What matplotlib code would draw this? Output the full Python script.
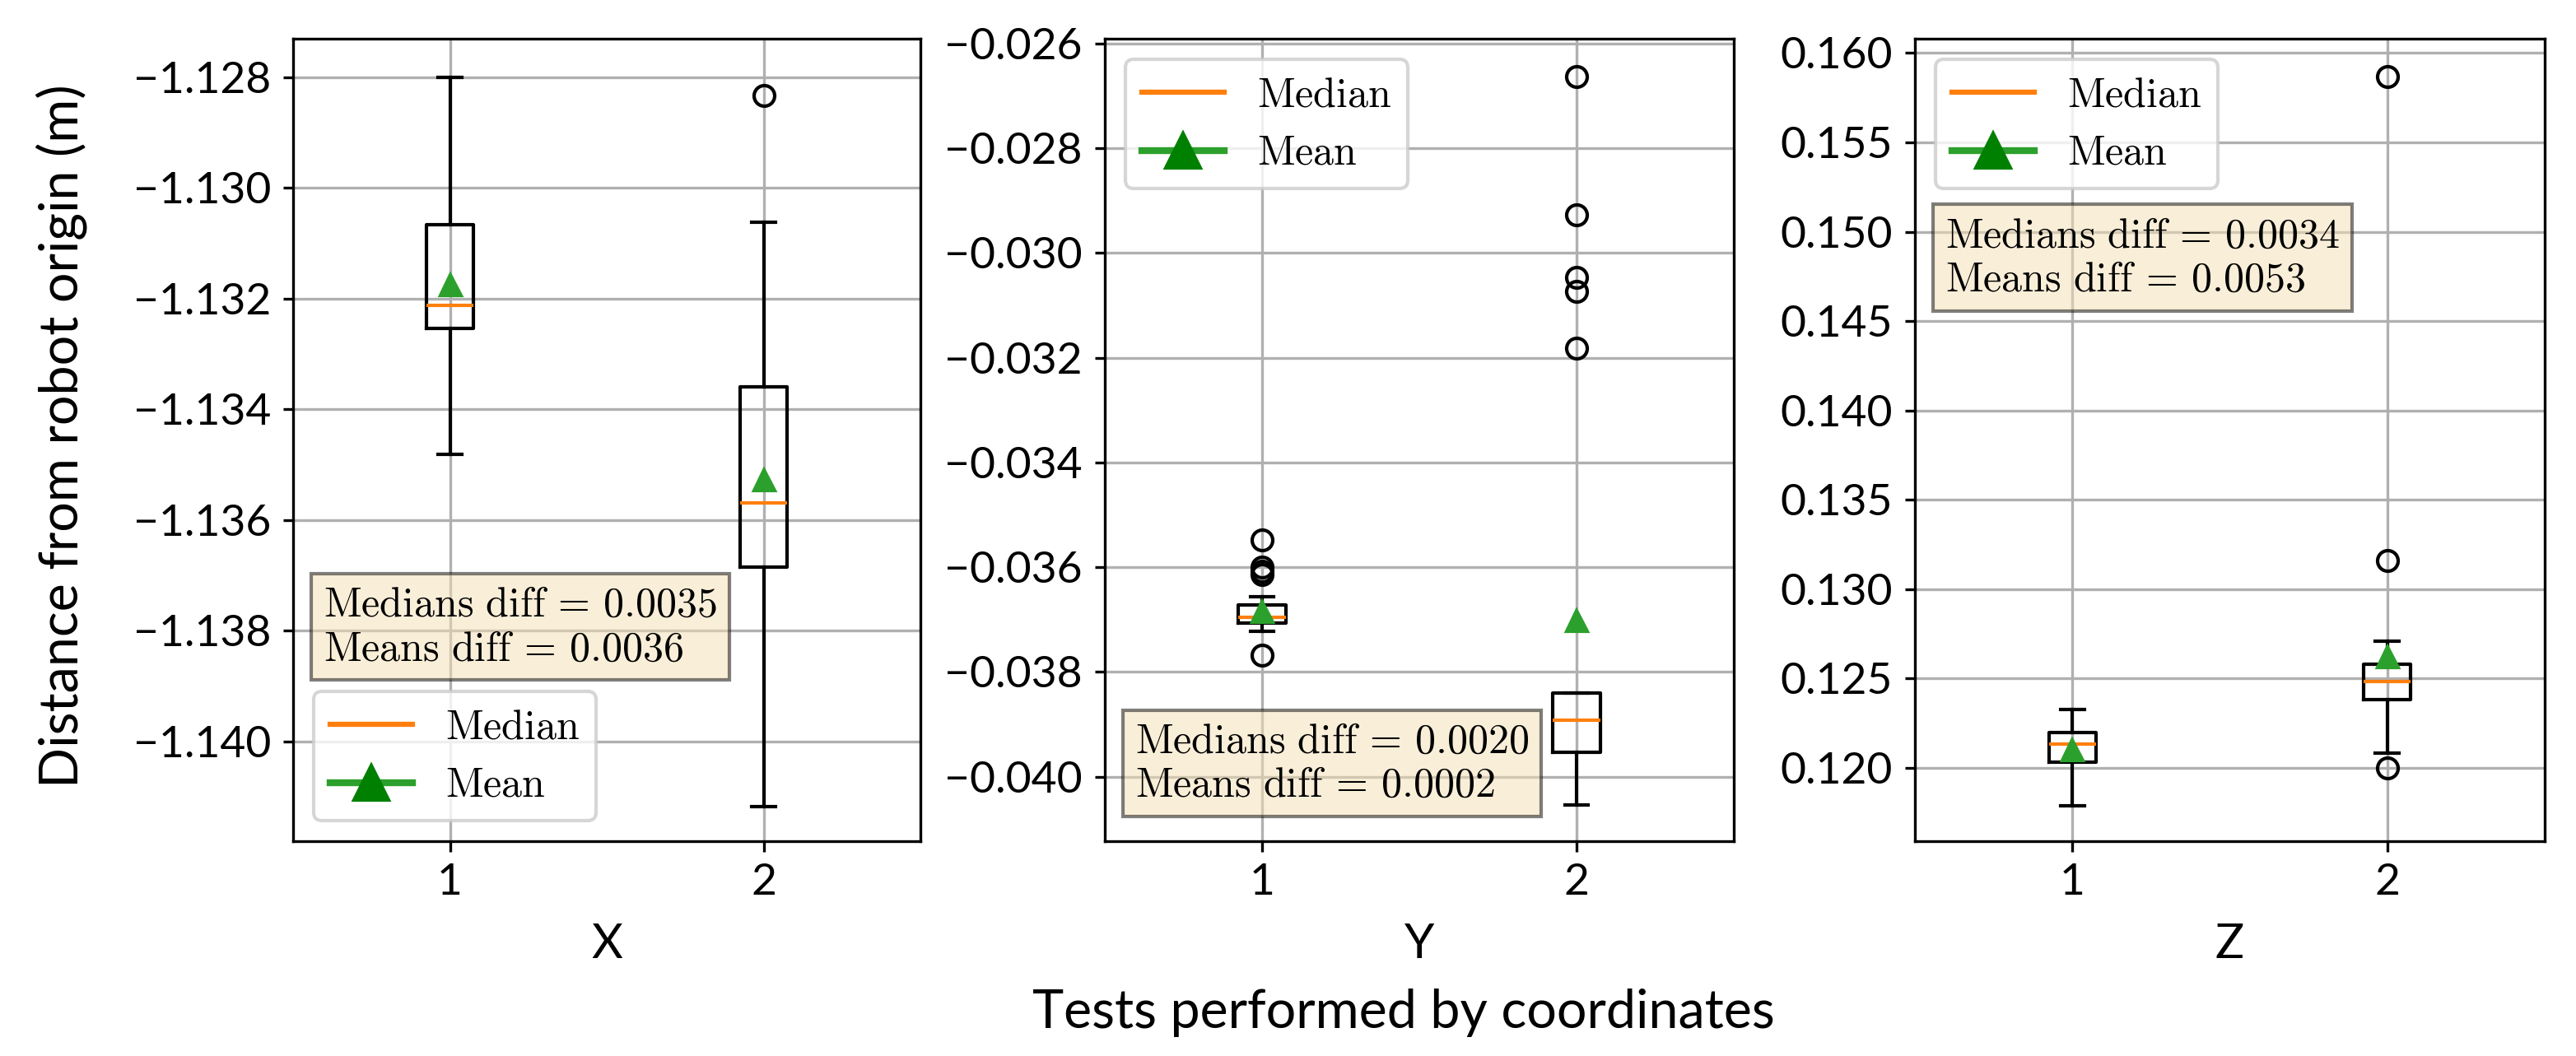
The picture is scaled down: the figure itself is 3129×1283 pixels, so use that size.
import matplotlib
matplotlib.use("Agg")
import matplotlib.pyplot as plt
from matplotlib.lines import Line2D
from matplotlib.ticker import MultipleLocator, FuncFormatter

plt.rcParams['mathtext.fontset'] = 'cm'
plt.rcParams['font.family'] = ['Lato', 'DejaVu Sans']

# data, test 1 and test 2 per coordinate
coords = ['X', 'Y', 'Z']

x_med = [-1.13212, -1.13569]
x_q1 = [-1.13254, -1.13685]
x_q3 = [-1.13066, -1.13359]
x_lo = [-1.13482, -1.14118]
x_hi = [-1.12800, -1.13062]
x_mean = [-1.13175, -1.13527]
x_fliers = [[], [-1.12833]]

y_med = [-0.03696, -0.03892]
y_q1 = [-0.03707, -0.03954]
y_q3 = [-0.03672, -0.03840]
y_lo = [-0.03723, -0.04054]
y_hi = [-0.03656, -0.03840]
y_mean = [-0.03685, -0.03702]
y_fliers = [[-0.03548, -0.03599, -0.03607, -0.03614, -0.03768],
            [-0.02663, -0.02928, -0.03047, -0.03073, -0.03182]]

z_med = [0.12135, 0.12482]
z_q1 = [0.12033, 0.12381]
z_q3 = [0.12200, 0.12582]
z_lo = [0.11790, 0.12085]
z_hi = [0.12329, 0.12711]
z_mean = [0.12101, 0.12622]
z_fliers = [[], [0.15868, 0.13159, 0.12000]]

diff_texts = [('0.0035', '0.0036'), ('0.0020', '0.0002'), ('0.0034', '0.0053')]

ylims = [(-1.141805, -1.12730), (-0.04123, -0.02591), (0.11590, 0.16080)]
ysteps = [0.002, 0.002, 0.005]


def make_stats(med, q1, q3, lo, hi, mean, fliers):
    stats = []
    for i in range(2):
        stats.append(dict(med=med[i], q1=q1[i], q3=q3[i], whislo=lo[i],
                          whishi=hi[i], mean=mean[i], fliers=fliers[i],
                          label=str(i + 1)))
    return stats


all_stats = [
    make_stats(x_med, x_q1, x_q3, x_lo, x_hi, x_mean, x_fliers),
    make_stats(y_med, y_q1, y_q3, y_lo, y_hi, y_mean, y_fliers),
    make_stats(z_med, z_q1, z_q3, z_lo, z_hi, z_mean, z_fliers),
]

fig = plt.figure(figsize=(3129 / 300, 1283 / 300), dpi=300)
lefts = [356, 1342, 2326]
widths = [762, 764, 765]
axes = []
for l, w in zip(lefts, widths):
    axes.append(fig.add_axes([l / 3129, 1 - 1022 / 1283, w / 3129, 975 / 1283]))

legend_locs = ['lower left', 'upper left', 'upper left']
text_pos = [(0.048, 0.318), (0.048, 0.148), (0.048, 0.778)]

fmt = FuncFormatter(lambda v, p: ('%.3f' % v).replace('-', '\u2212'))

for k, ax in enumerate(axes):
    ax.bxp(all_stats[k], showmeans=True, widths=0.15)
    ax.set_xlim(0.5, 2.5)
    ax.set_ylim(*ylims[k])
    ax.yaxis.set_major_locator(MultipleLocator(ysteps[k]))
    ax.yaxis.set_major_formatter(fmt)
    ax.grid(True)
    ax.tick_params(labelsize=12.8, length=3)
    ax.set_xlabel(coords[k], fontsize=14, labelpad=6)

    handles = [Line2D([], [], color='C1', label=r'$\mathrm{Median}$'),
               Line2D([], [], color='C2', lw=2, marker='^', markersize=10,
                      markerfacecolor='green', markeredgecolor='green',
                      label=r'$\mathrm{Mean}$')]
    ax.legend(handles=handles, loc=legend_locs[k], fontsize=12)

    md, mn = diff_texts[k]
    txt = (r'$\mathrm{Medians\ diff}\,=\,%s$' % md + '\n'
           + r'$\mathrm{Means\ diff}\,=\,%s$' % mn)
    ax.text(text_pos[k][0], text_pos[k][1], txt, transform=ax.transAxes,
            fontsize=12, va='top', ha='left',
            bbox=dict(boxstyle='square,pad=0.3', facecolor='wheat', alpha=0.5))

fig.text(0.024, 0.587, 'Distance from robot origin (m)', rotation=90,
         ha='center', va='center', fontsize=15.5)
fig.text(0.545, 0.0265, 'Tests performed by coordinates', ha='center',
         va='baseline', fontsize=15.5)

fig.savefig('out.png', dpi=300)
